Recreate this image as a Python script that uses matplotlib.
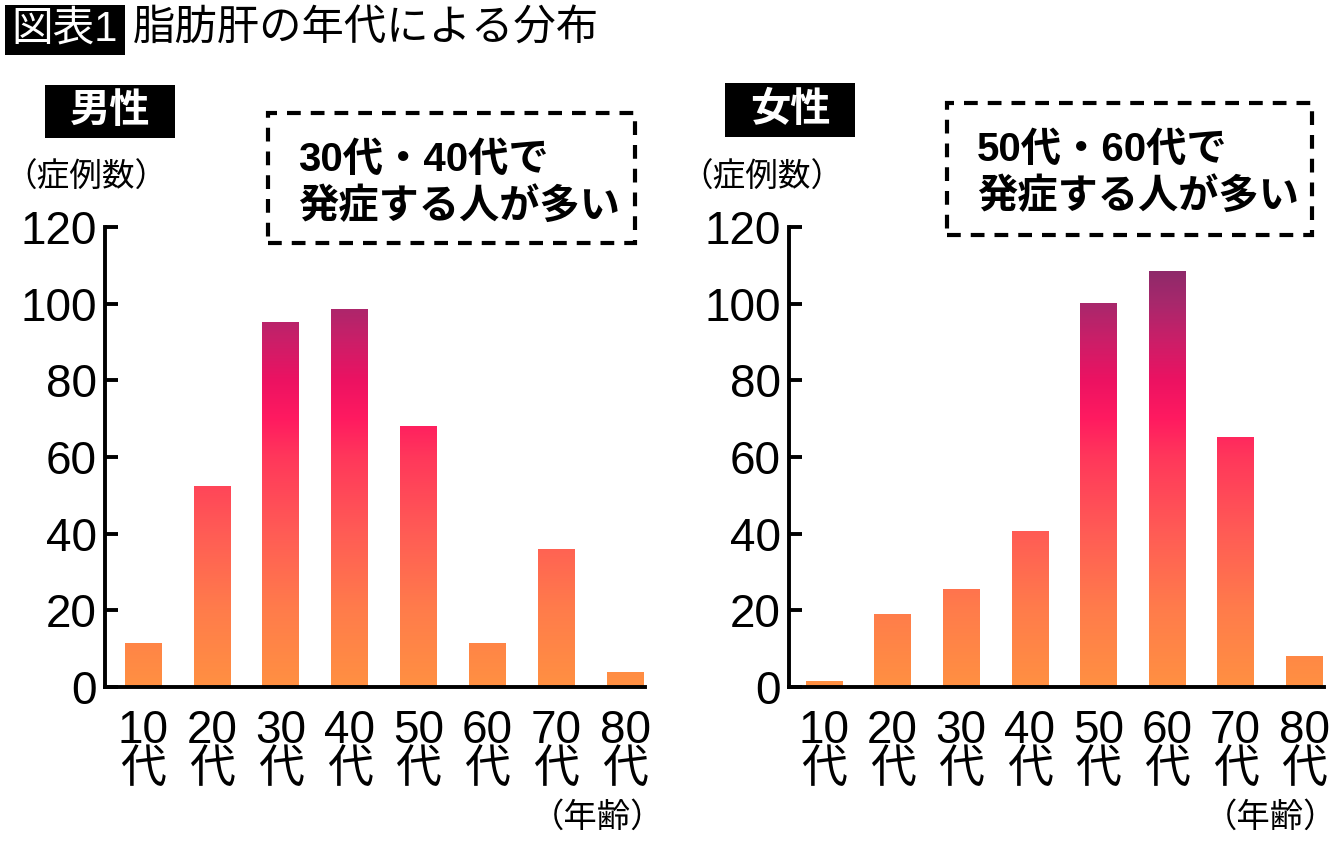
import matplotlib
matplotlib.use("Agg")
import matplotlib.pyplot as plt
import numpy as np
from matplotlib import font_manager
from matplotlib.colors import LinearSegmentedColormap
from matplotlib.patches import Rectangle

# data
ages = ["10", "20", "30", "40", "50", "60", "70", "80"]
male_cases = [11.4, 52.5, 95.3, 98.5, 68.1, 11.4, 35.9, 4.0]
female_cases = [1.6, 19.1, 25.5, 40.6, 100.2, 108.6, 65.2, 8.1]
y_ticks = [0, 20, 40, 60, 80, 100, 120]

W, H = 1340, 851

names = {f.name for f in font_manager.fontManager.ttflist}
num_font = "Liberation Sans Narrow" if "Liberation Sans Narrow" in names else "Liberation Sans"
plt.rcParams["font.family"] = [num_font, "Noto Sans CJK JP", "DejaVu Sans"]

# colour runs with the value, orange at the bottom to purple at the top
cmap = LinearSegmentedColormap.from_list("fat", [
    (0.0, "#FF9042"), (20 / 120, "#FF7C4B"), (40 / 120, "#FF5C55"),
    (60 / 120, "#FF375B"), (70 / 120, "#FF1A60"), (80 / 120, "#EC1262"),
    (90 / 120, "#CC1E68"), (100 / 120, "#A8286C"), (110 / 120, "#8A2A6A"),
    (1.0, "#7A2A68")])


def fx(x):
    return x / W


def fy(y):
    return 1 - y / H


def panel(ax, values, left):
    bars = ax.bar(range(len(values)), values, width=0.53, color="none", edgecolor="none")
    grad = np.linspace(0, 120, 256).reshape(-1, 1)
    for b in bars:
        im = ax.imshow(grad, cmap=cmap, vmin=0, vmax=120, origin="lower", aspect="auto",
                       extent=[b.get_x(), b.get_x() + b.get_width(), 0, 120],
                       interpolation="bilinear")
        im.set_clip_path(b)
    ax.set_xlim(left, 7.29)
    ax.set_ylim(0, 120)
    ax.set_aspect("auto")
    for s in ["top", "right"]:
        ax.spines[s].set_visible(False)
    for s in ["left", "bottom"]:
        ax.spines[s].set_linewidth(2.8)
    ax.set_yticks(y_ticks)
    ax.tick_params(axis="y", direction="in", length=9.5, width=2.8, pad=6, labelsize=33)
    ax.set_xticks(range(len(ages)))
    ax.set_xticklabels([a + "\n代" for a in ages], fontsize=33, linespacing=0.85)
    ax.tick_params(axis="x", length=0, pad=16)


fig = plt.figure(figsize=(W / 100, H / 100), dpi=100)
ax1 = fig.add_axes([fx(105), fy(687), (645 - 105) / W, (687 - 227) / H])
ax2 = fig.add_axes([fx(789), fy(687), (1324 - 789) / W, (687 - 227) / H])
panel(ax1, male_cases, -0.55)
panel(ax2, female_cases, -0.51)


def box(x0, y0, x1, y1, **kw):
    fig.patches.append(Rectangle((fx(x0), fy(y1)), (x1 - x0) / W, (y1 - y0) / H,
                                 transform=fig.transFigure, **kw))


# title
box(5, 5, 125, 55, facecolor="black", edgecolor="none")
fig.text(fx(65), fy(30), "図表1", color="white", fontsize=30, ha="center", va="center")
fig.text(fx(133), fy(30), "脂肪肝の年代による分布", fontsize=30.5, ha="left", va="center")

# panel headers
for (x0, y0, x1, y1), label in [((45, 85, 175, 138), "男性"), ((725, 83, 855, 137), "女性")]:
    box(x0, y0, x1, y1, facecolor="black", edgecolor="none")
    fig.text(fx((x0 + x1) / 2), fy((y0 + y1) / 2), label, color="white", fontsize=29,
             fontweight="bold", ha="center", va="center")

fig.text(fx(86), fy(178), "（症例数）", fontsize=23.5, ha="center", va="center")
fig.text(fx(762), fy(178), "（症例数）", fontsize=23.5, ha="center", va="center")
fig.text(fx(664), fy(818), "（年齢）", fontsize=24, ha="right", va="center")
fig.text(fx(1337), fy(818), "（年齢）", fontsize=24, ha="right", va="center")

# dashed call-outs
notes = [((268, 113, 635, 243), "30代・40代で", "発症する人が多い"),
         ((947, 103, 1312, 235), "50代・60代で", "発症する人が多い")]
for (x0, y0, x1, y1), l1, l2 in notes:
    box(x0, y0, x1, y1, facecolor="none", edgecolor="black", linewidth=3,
        linestyle=(0, (3.3, 2.4)))
    fig.text(fx(x0 + 30), fy(y0 + 47), l1, fontsize=29, fontweight="bold", ha="left", va="center")
    fig.text(fx(x0 + 30), fy(y0 + 93), l2, fontsize=29, fontweight="bold", ha="left", va="center")

fig.savefig("out.png", dpi=100, facecolor="white")
